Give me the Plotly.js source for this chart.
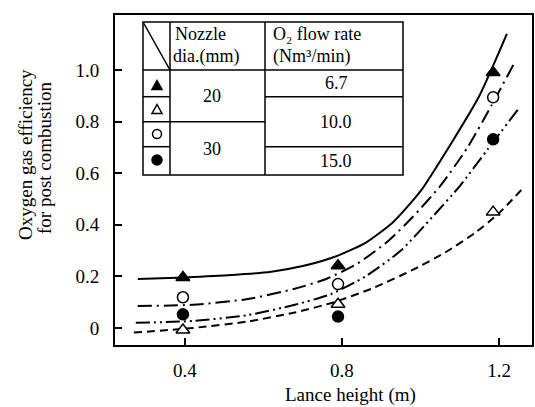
<!DOCTYPE html>
<html><head><meta charset="utf-8">
<script src="https://cdn.plot.ly/plotly-3.0.1.min.js"></script>
<style>html,body{margin:0;padding:0;background:#fff}#chart{width:535px;height:407px}</style>
</head><body><div id="chart"></div>
<script>
// ---- measured data points (Lance height m, efficiency) ----
const lanceHeight = [0.395, 0.79, 1.185];
const effNoz20_O2_67  = [0.196, 0.241, 0.99];   // ▲
const effNoz20_O2_100 = [-0.008, 0.092, 0.449]; // △
const effNoz30_O2_100 = [0.119, 0.170, 0.894];  // ○
const effNoz30_O2_150 = [0.053, 0.044, 0.731];  // ●

// ---- fitted curves ----
const curveA_x = [0.28, 0.40, 0.52, 0.62, 0.70, 0.78, 0.86, 0.93, 1.00, 1.08, 1.15, 1.22];
const curveA_y = [0.19, 0.196, 0.205, 0.218, 0.24, 0.275, 0.33, 0.41, 0.53, 0.72, 0.90, 1.14];
const curveC_x = [0.28, 0.42, 0.56, 0.68, 0.76, 0.84, 0.92, 0.98, 1.05, 1.12, 1.18, 1.24];
const curveC_y = [0.085, 0.09, 0.112, 0.152, 0.19, 0.25, 0.34, 0.43, 0.55, 0.70, 0.86, 1.03];
const curveD_x = [0.275, 0.42, 0.56, 0.68, 0.77, 0.86, 0.95, 1.03, 1.10, 1.17, 1.25];
const curveD_y = [0.02, 0.027, 0.05, 0.09, 0.13, 0.20, 0.30, 0.43, 0.55, 0.69, 0.85];
const curveB_x = [0.27, 0.42, 0.56, 0.68, 0.78, 0.88, 0.98, 1.06, 1.14, 1.20, 1.26];
const curveB_y = [-0.018, 0.0, 0.025, 0.06, 0.10, 0.155, 0.225, 0.29, 0.37, 0.445, 0.54];

// ---- tick labels ----
const yTickVals = [0, 0.2, 0.4, 0.6, 0.8, 1.0];
const yTickText = ['0', '0.2', '0.4', '0.6', '0.8', '1.0'];
const xTickVals = [0.4, 0.8, 1.2];
const xTickText = ['0.4', '0.8', '1.2'];

// ---- table text ----
const nozzleDia = ['20', '30'];
const o2Flow = ['6.7', '10.0', '15.0'];

const FONT = 'Liberation Serif, Times New Roman, serif';
const L = 115, R = 532, T = 15, B = 345, W = 535, H = 407;
const px = x => (x - L) / (R - L);
const py = y => (B - y) / (B - T);

function curve(x, y, dash) {
  return {x: x, y: y, mode: 'lines', type: 'scatter', hoverinfo: 'skip',
    line: {color: '#000', width: 2, dash: dash, shape: 'spline', smoothing: 0.6}};
}
function pts(y, sym, fill) {
  return {x: lanceHeight, y: y, mode: 'markers', type: 'scatter',
    marker: {symbol: sym, size: sym.indexOf('triangle') === 0 ? 12 : 11, color: fill,
      line: {color: '#000', width: 1.5}}};
}

const traces = [
  curve(curveA_x, curveA_y, 'solid'),
  curve(curveC_x, curveC_y, '14px,5px,2px,5px'),
  curve(curveD_x, curveD_y, '14px,4px,2px,4px,2px,4px'),
  curve(curveB_x, curveB_y, '8px,5px'),
  pts(effNoz20_O2_67, 'triangle-up', '#000'),
  pts(effNoz20_O2_100, 'triangle-up', '#fff'),
  pts(effNoz30_O2_100, 'circle', '#fff'),
  pts(effNoz30_O2_150, 'circle', '#000')
];

// table geometry (pixels)
const tL = 143, tR = 403, tT = 22, tB = 175, c1 = 170, c2 = 265, hB = 70;
const r1 = 96.7, r2 = 121.7, r3 = 146.7;
const LINE = {color: '#000', width: 1.5};
function seg(x0, y0, x1, y1) {
  return {type: 'line', xref: 'paper', yref: 'paper', x0: px(x0), y0: py(y0), x1: px(x1), y1: py(y1),
    line: LINE, layer: 'above'};
}
function tri(cx, cy, filled) {
  const p = 'M' + px(cx - 5) + ',' + py(cy + 4.5) + 'L' + px(cx + 5) + ',' + py(cy + 4.5) +
            'L' + px(cx) + ',' + py(cy - 4.5) + 'Z';
  return {type: 'path', xref: 'paper', yref: 'paper', path: p, layer: 'above',
    fillcolor: filled ? '#000' : '#fff', line: {color: '#000', width: 1.5}};
}
function circ(cx, cy, r, filled) {
  return {type: 'circle', xref: 'paper', yref: 'paper', x0: px(cx - r), x1: px(cx + r),
    y0: py(cy + r), y1: py(cy - r), layer: 'above',
    fillcolor: filled ? '#000' : '#fff', line: {color: '#000', width: 1.5}};
}
const shapes = [
  {type: 'rect', xref: 'paper', yref: 'paper', x0: px(tL), y0: py(tB), x1: px(tR), y1: py(tT),
    line: LINE, fillcolor: '#fff', layer: 'above'},
  seg(c1, tT, c1, tB), seg(c2, tT, c2, tB), seg(tL, hB, tR, hB),
  seg(tL, r1, c1, r1), seg(c2, r1, tR, r1),
  seg(tL, r2, c2, r2),
  seg(tL, r3, c1, r3), seg(c2, r3, tR, r3),
  seg(tL, tT, c1, hB),
  tri(157, 85, true), tri(157, 109, false), circ(157, 134, 4.5, false), circ(157, 160, 5, true)
];

function ann(text, x, y, size, opts) {
  return Object.assign({text: text, xref: 'paper', yref: 'paper', x: px(x), y: py(y),
    showarrow: false, xanchor: 'center', yanchor: 'middle',
    font: {family: FONT, size: size, color: '#000'}}, opts || {});
}
const annotations = [
  ann('Lance height (m)', 350, 395, 19),
  ann('Oxygen gas efficiency', 26, 155, 19, {textangle: -90}),
  ann('for post combustion', 44, 158, 19, {textangle: -90}),
  ann('Nozzle', 173, 34, 18, {xanchor: 'left'}),
  ann('dia.(mm)', 171, 56, 18, {xanchor: 'left'}),
  ann('O₂ flow rate', 271, 34, 18, {xanchor: 'left'}),
  ann('(Nm³/min)', 271, 56, 18, {xanchor: 'left'}),
  ann(nozzleDia[0], 212, 96, 18),
  ann(nozzleDia[1], 212, 149, 18),
  ann(o2Flow[0], 336, 83, 18),
  ann(o2Flow[1], 336, 122, 18),
  ann(o2Flow[2], 336, 161, 18)
];

const axisCommon = {showline: true, mirror: true, linecolor: '#000', linewidth: 2,
  ticks: 'inside', ticklen: 7, tickwidth: 2, tickcolor: '#000', showgrid: false, zeroline: false,
  tickfont: {family: FONT, size: 19, color: '#000'}, tickmode: 'array'};

const layout = {
  width: W, height: H, margin: {l: L, r: W - R, t: T, b: H - B},
  paper_bgcolor: '#fff', plot_bgcolor: '#fff', showlegend: false,
  xaxis: Object.assign({}, axisCommon, {range: [0.222, 1.284], tickvals: xTickVals, ticktext: xTickText, ticklabelstandoff: 7}),
  yaxis: Object.assign({}, axisCommon, {range: [-0.066, 1.213], tickvals: yTickVals, ticktext: yTickText, ticklabelstandoff: 10}),
  shapes: shapes, annotations: annotations
};

Plotly.newPlot('chart', traces, layout, {staticPlot: true, displayModeBar: false});
</script></body></html>
